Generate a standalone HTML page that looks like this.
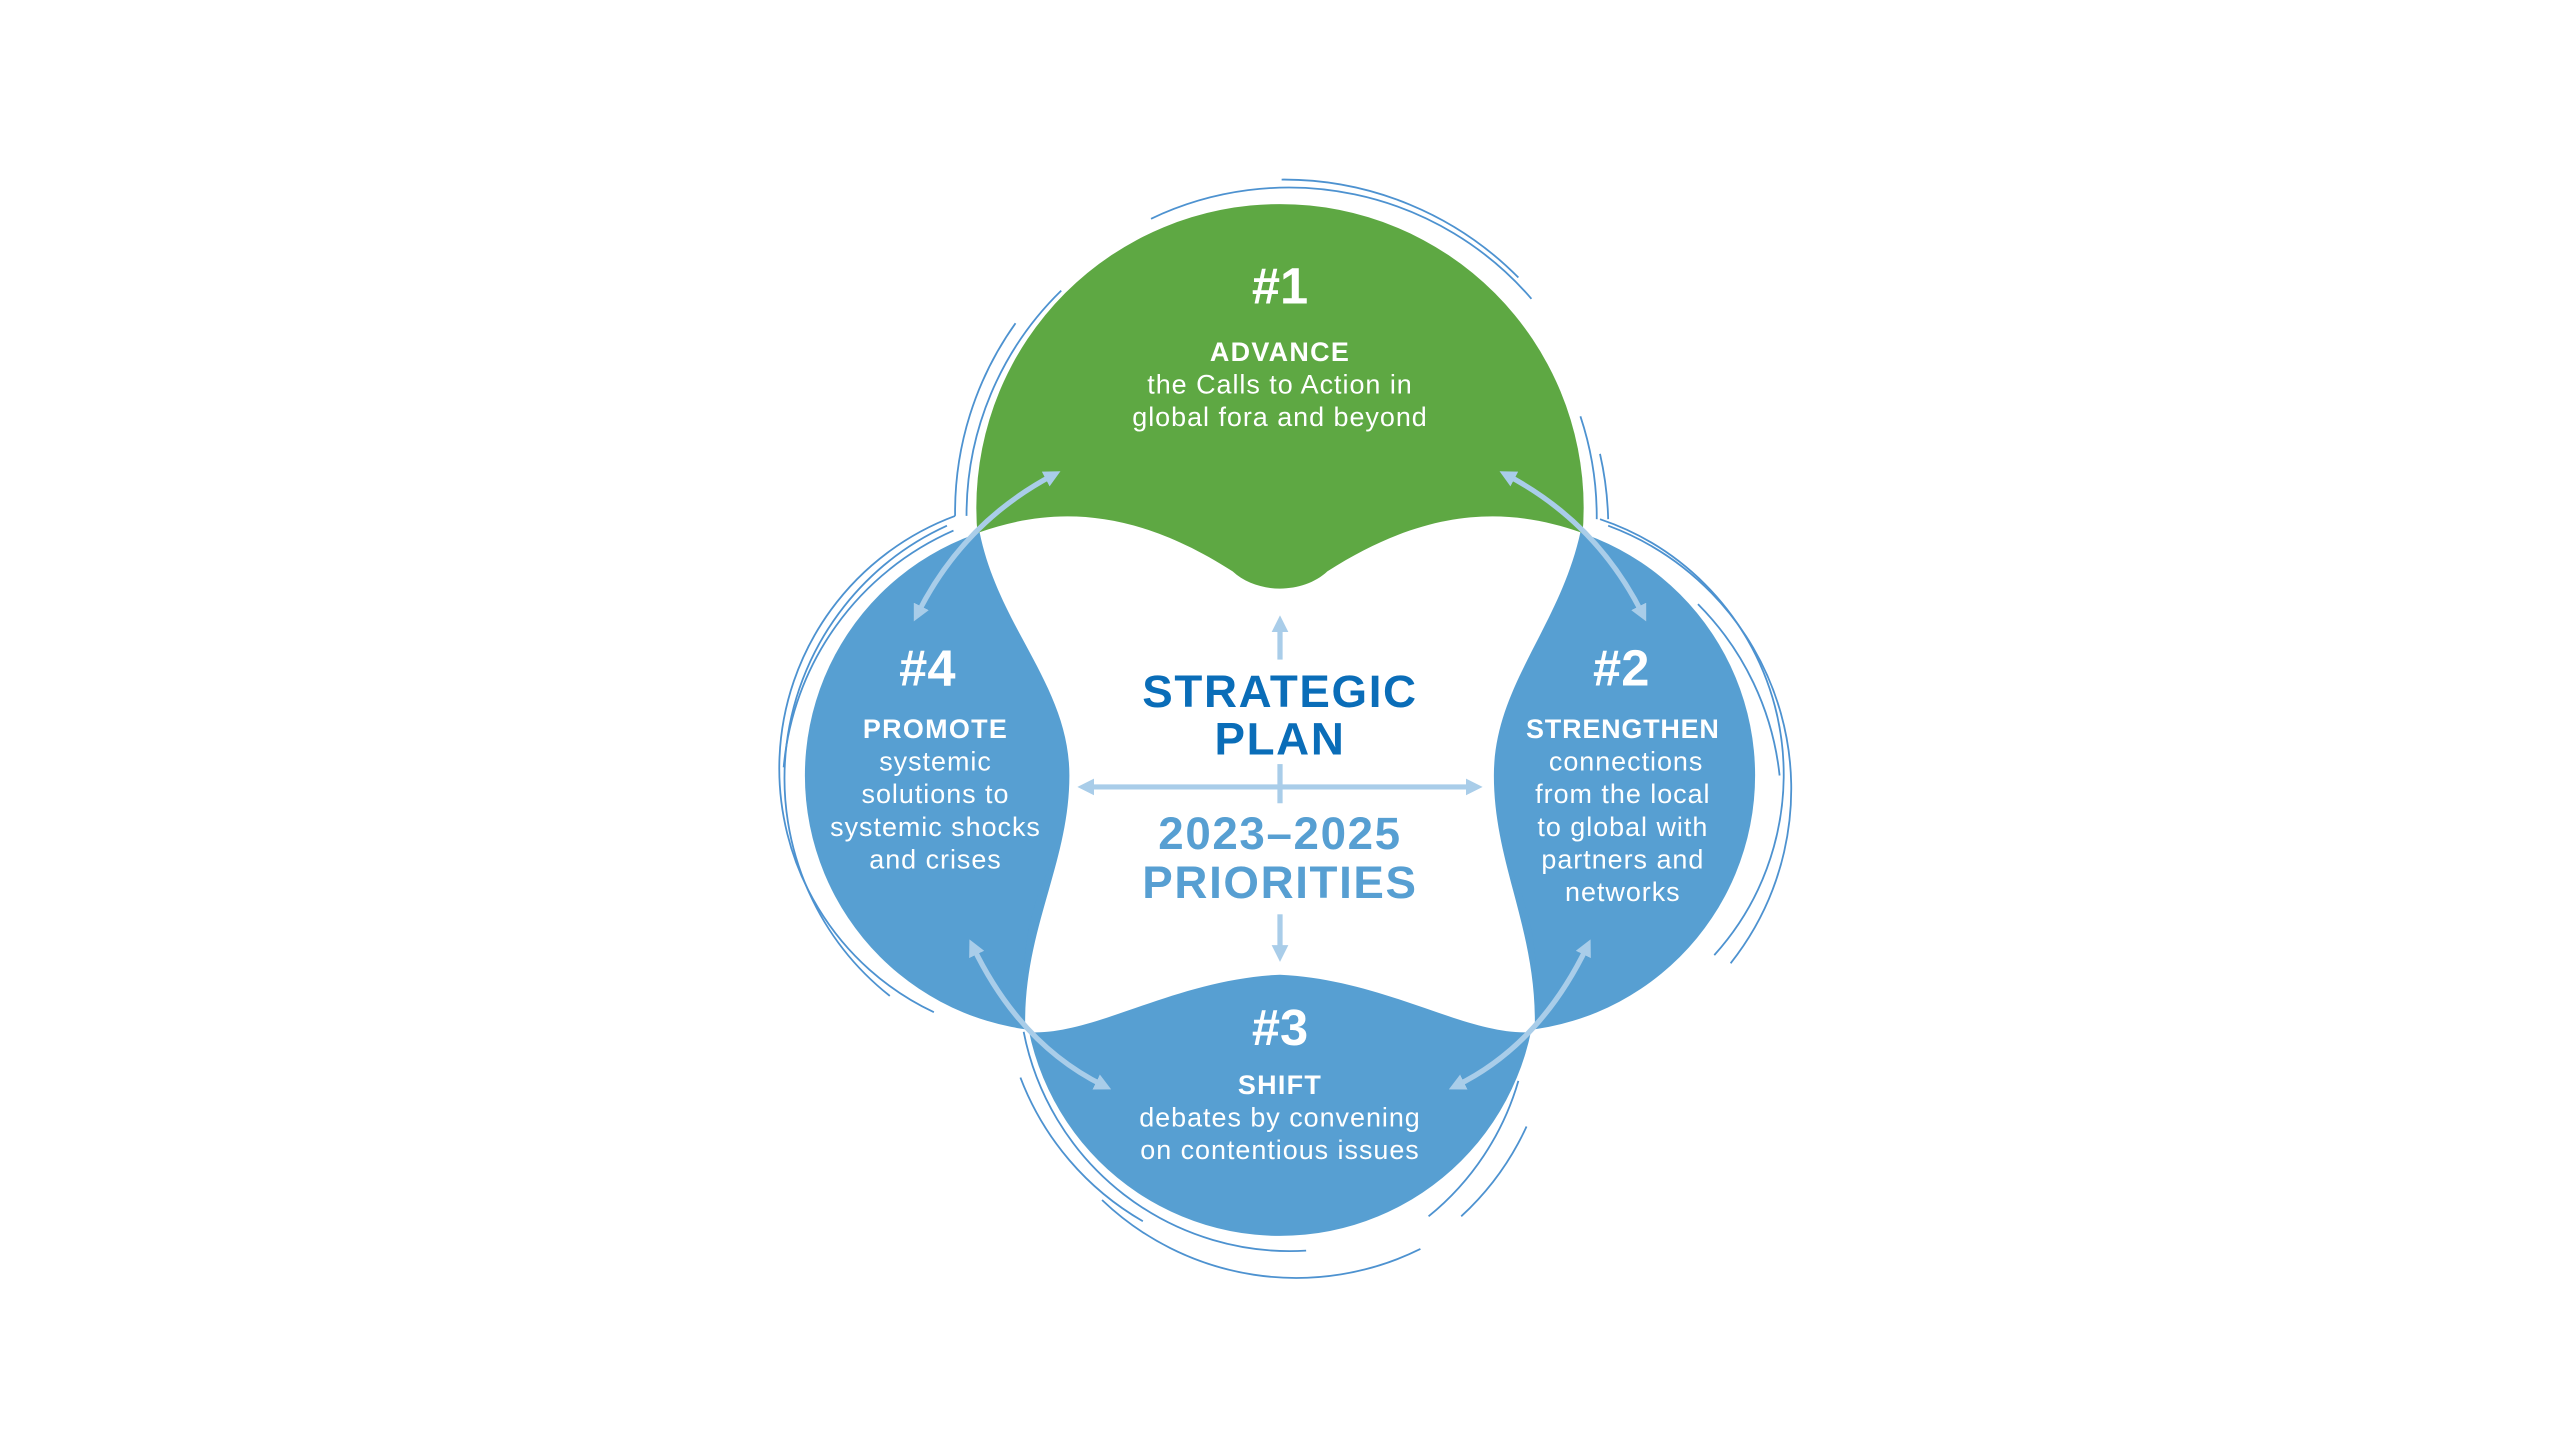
<!DOCTYPE html>
<html><head><meta charset="utf-8"><style>
html,body{margin:0;padding:0;background:#fff;width:2560px;height:1440px;overflow:hidden}
svg{display:block}
text{font-family:"Liberation Sans",sans-serif;text-anchor:middle}
</style></head><body>
<svg width="2560" height="1440" viewBox="0 0 1568 882" xmlns="http://www.w3.org/2000/svg">
<defs>
<marker id="ah" viewBox="0 0 10 10" refX="5" refY="5" markerWidth="3.2" markerHeight="3.2" orient="auto-start-reverse">
<path d="M0,0 L10,5 L0,10 Z" fill="#a9cde9"/></marker>
</defs>
<rect width="1568" height="882" fill="#fff"/>
<g fill="none" stroke="#4d92d0" stroke-width="1.1">
<path d="M585,316 A199,199 0 0 1 622,198"/><path d="M592,316 A192,192 0 0 1 650,178"/>
<path d="M705,134 A196,196 0 0 1 938,183"/><path d="M785,110 A202,202 0 0 1 930,170"/>
<path d="M968,255 A195,195 0 0 1 978,318"/><path d="M980,278 A202,202 0 0 1 985,318"/>
<path d="M585,316 A165,165 0 0 0 572,620"/><path d="M580,322 A170,170 0 0 0 545,610"/>
<path d="M584,325 A175,175 0 0 0 480,470"/>
<path d="M980,318 A165,165 0 0 1 1050,585"/><path d="M985,322 A172,172 0 0 1 1060,590"/>
<path d="M1040,370 A175,175 0 0 1 1090,475"/>
<path d="M627,632 A166,166 0 0 0 800,766"/><path d="M625,660 A172,172 0 0 0 700,748"/>
<path d="M675,735 A172,172 0 0 0 870,765"/><path d="M930,662 A166,166 0 0 1 875,745"/>
<path d="M935,690 A172,172 0 0 1 895,745"/>
</g>
<circle cx="784" cy="311" r="186" fill="#5ea843"/>
<circle cx="650" cy="475" r="157" fill="#579fd2"/>
<circle cx="918" cy="475" r="157" fill="#579fd2"/>
<circle cx="784" cy="600" r="157" fill="#579fd2"/>
<path fill="#fff" d="M600,326 C640,312 690,308 755,350 C770,364 798,364 813,350 C878,308 928,312 968,326
C955,385 915,420 915,475 C915,530 942,570 940,632
C900,636 850,600 784,597 C718,600 668,636 628,632
C626,570 655,530 655,475 C655,420 612,385 600,326 Z"/>
<g fill="none" stroke="#a9cde9" stroke-width="3.2">
<path d="M645,291 Q590,320 562,376" marker-start="url(#ah)" marker-end="url(#ah)"/>
<path d="M923,291 Q978,320 1006,376" marker-start="url(#ah)" marker-end="url(#ah)"/>
<path d="M596,580 Q625,640 676,665" marker-start="url(#ah)" marker-end="url(#ah)"/>
<path d="M972,580 Q943,640 892,665" marker-start="url(#ah)" marker-end="url(#ah)"/>
<path d="M665,482 L903,482" marker-start="url(#ah)" marker-end="url(#ah)"/>
<path d="M784,404 L784,382" marker-end="url(#ah)"/>
<path d="M784,560 L784,584" marker-end="url(#ah)"/>
<path d="M784,468 L784,492"/>
</g>
<g fill="#fff" font-weight="bold">
<text x="784" y="186" font-size="31">#1</text>
<text x="784" y="221" font-size="16.5" letter-spacing="0.8">ADVANCE</text>
<text x="993" y="420" font-size="31">#2</text>
<text x="994" y="452" font-size="16.5" letter-spacing="0.5">STRENGTHEN</text>
<text x="784" y="640" font-size="31">#3</text>
<text x="784" y="670" font-size="16.5" letter-spacing="0.8">SHIFT</text>
<text x="568" y="420" font-size="31">#4</text>
<text x="573" y="452" font-size="16.5" letter-spacing="0.8">PROMOTE</text>
</g>
<g fill="#fff" font-size="16.5" letter-spacing="0.6">
<text x="784" y="241">the Calls to Action in</text>
<text x="784" y="261">global fora and beyond</text>
<text x="996" y="472">connections</text>
<text x="994" y="492">from the local</text>
<text x="994" y="512">to global with</text>
<text x="994" y="532">partners and</text>
<text x="994" y="552">networks</text>
<text x="573" y="472">systemic</text>
<text x="573" y="492">solutions to</text>
<text x="573" y="512">systemic shocks</text>
<text x="573" y="532">and crises</text>
<text x="784" y="690">debates by convening</text>
<text x="784" y="710">on contentious issues</text>
</g>
<g font-weight="bold" font-size="28" letter-spacing="1">
<text x="784" y="433" fill="#0a6db8">STRATEGIC</text>
<text x="784" y="462" fill="#0a6db8">PLAN</text>
<text x="784" y="520" fill="#579fd2">2023–2025</text>
<text x="784" y="550" fill="#579fd2">PRIORITIES</text>
</g>
</svg>
</body></html>
